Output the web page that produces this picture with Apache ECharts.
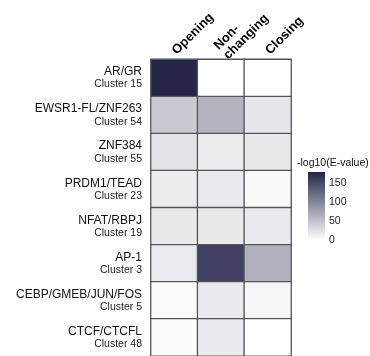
<!DOCTYPE html>
<html>
<head>
<meta charset="utf-8">
<script src="https://cdn.jsdelivr.net/npm/echarts@6/dist/echarts.min.js"></script>
<style>
  html, body { margin: 0; padding: 0; background: #fff; }
  #chart { width: 370px; height: 356px; }
</style>
</head>
<body>
<div id="chart"></div>
<script>
// Motif enrichment per chromatin accessibility class
const columns = ['Opening', 'Non-\nchanging', 'Closing'];
const motifs = ['AR/GR', 'EWSR1-FL/ZNF263', 'ZNF384', 'PRDM1/TEAD', 'NFAT/RBPJ', 'AP-1', 'CEBP/GMEB/JUN/FOS', 'CTCF/CTCFL'];
const clusters = ['Cluster 15', 'Cluster 54', 'Cluster 55', 'Cluster 23', 'Cluster 19', 'Cluster 3', 'Cluster 5', 'Cluster 48'];

// -log10(E-value) per motif, one array per column
const opening     = [178, 44, 22, 15, 18, 16, 4, 3];
const nonChanging = [0, 61, 15, 17, 18, 155, 17, 17];
const closing     = [0, 20, 18, 5, 17, 63, 7, 0];

const legendMax = 178;
const legendTicks = [0, 50, 100, 150];

const lowColor = '#ffffff';
const highColor = '#242548';
const font = '"Liberation Sans", Arial, sans-serif';

const cells = [];
[opening, nonChanging, closing].forEach((col, ci) => {
  col.forEach((v, ri) => cells.push([ci, ri, v]));
});

const chart = echarts.init(document.getElementById('chart'), null, { renderer: 'canvas' });

chart.setOption({
  animation: false,
  backgroundColor: '#ffffff',
  textStyle: { fontFamily: font },
  grid: [
    { left: 151, top: 54, width: 140, height: 307 },
    { left: 308, top: 172, width: 17, height: 68 }
  ],
  xAxis: [
    {
      type: 'category',
      gridIndex: 0,
      position: 'top',
      data: columns,
      axisLine: { show: false },
      axisTick: { show: false },
      splitLine: { show: false },
      axisLabel: {
        rotate: -45,
        margin: 7,
        interval: 0,
        color: '#000',
        fontFamily: font,
        fontWeight: 'bold',
        fontSize: 13,
        lineHeight: 13.5
      }
    },
    {
      type: 'category',
      gridIndex: 1,
      data: ['scale'],
      show: false
    }
  ],
  yAxis: [
    {
      type: 'category',
      gridIndex: 0,
      inverse: true,
      data: motifs,
      axisLine: { show: false },
      axisTick: { show: false },
      splitLine: { show: false },
      axisLabel: {
        margin: 9,
        interval: 0,
        align: 'right',
        formatter: (name, i) => '{n|' + name + '}\n{c|' + clusters[i] + '}',
        rich: {
          n: { fontFamily: font, fontSize: 12, color: '#111', lineHeight: 13, align: 'right' },
          c: { fontFamily: font, fontSize: 10.5, color: '#222', lineHeight: 12, align: 'right' }
        }
      }
    },
    {
      type: 'value',
      gridIndex: 1,
      min: 0,
      max: legendMax,
      interval: 50,
      position: 'left',
      axisLine: { show: false },
      axisLabel: { show: false },
      splitLine: { show: false },
      axisTick: { show: true, inside: true, length: 3, lineStyle: { color: '#ffffff', width: 1 } }
    },
    {
      type: 'value',
      gridIndex: 1,
      min: 0,
      max: legendMax,
      interval: 50,
      position: 'right',
      axisLine: { show: false },
      splitLine: { show: false },
      axisTick: { show: true, inside: true, length: 3, lineStyle: { color: '#ffffff', width: 1 } },
      axisLabel: {
        margin: 4,
        color: '#222',
        fontFamily: font,
        fontSize: 10.5,
        formatter: v => legendTicks.includes(v) ? String(v) : ''
      }
    }
  ],
  visualMap: {
    show: false,
    type: 'continuous',
    seriesIndex: 0,
    min: 0,
    max: legendMax,
    dimension: 2,
    inRange: { color: [lowColor, highColor] }
  },
  graphic: [
    {
      type: 'text',
      left: 297,
      top: 158,
      style: {
        text: '-log10(E-value)',
        fontFamily: font,
        fontSize: 10.5,
        fill: '#111'
      }
    }
  ],
  series: [
    {
      type: 'heatmap',
      xAxisIndex: 0,
      yAxisIndex: 0,
      data: cells,
      itemStyle: { borderColor: '#555555', borderWidth: 1.3 },
      emphasis: { disabled: true }
    },
    {
      type: 'bar',
      xAxisIndex: 1,
      yAxisIndex: 1,
      data: [legendMax],
      barWidth: '100%',
      z: 1,
      itemStyle: {
        color: new echarts.graphic.LinearGradient(0, 1, 0, 0, [
          { offset: 0, color: lowColor },
          { offset: 1, color: highColor }
        ])
      },
      emphasis: { disabled: true }
    }
  ]
});
</script>
</body>
</html>
